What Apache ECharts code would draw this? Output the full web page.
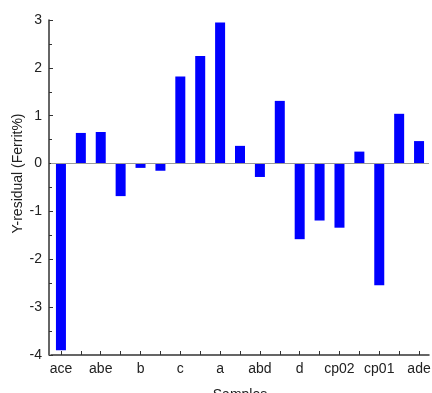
<!DOCTYPE html>
<html>
<head>
<meta charset="utf-8">
<script src="https://cdn.jsdelivr.net/npm/echarts@6/dist/echarts.min.js"></script>
<style>
html,body{margin:0;padding:0;background:#fff;}
#c{width:432px;height:393px;}
</style>
</head>
<body>
<div id="c"></div>
<script>
const categories = ["ace","","abe","","b","","c","","a","","abd","","d","","cp02","","cp01","","ade"];
const residuals = [-3.90, 0.64, 0.66, -0.68, -0.09, -0.15, 1.82, 2.25, 2.95, 0.37, -0.28, 1.31, -1.58, -1.19, -1.34, 0.25, -2.54, 1.04, 0.47];
const yTicks = [-4, -3, -2, -1, 0, 1, 2, 3];

const chart = echarts.init(document.getElementById('c'), null, {renderer: 'canvas'});
const font = 'Liberation Sans, Arial, sans-serif';
chart.setOption({
  animation: false,
  backgroundColor: '#ffffff',
  grid: {left: 51, right: 3, top: 20, bottom: 38, containLabel: false, outerBoundsMode: 'none'},
  xAxis: {
    type: 'category',
    data: categories,
    boundaryGap: true,
    position: 'bottom',
    axisLine: {onZero: false, lineStyle: {color: '#333', width: 1.5}},
    axisTick: {show: true, inside: true, alignWithLabel: true, interval: 0, length: 4, lineStyle: {color: '#333'}},
    axisLabel: {interval: 0, color: '#222', fontFamily: font, fontSize: 14, margin: 7},
    name: 'Samples',
    nameLocation: 'middle',
    nameGap: 33,
    nameMoveOverlap: false,
    nameTextStyle: {color: '#222', fontFamily: font, fontSize: 14}
  },
  yAxis: {
    type: 'value',
    min: yTicks[0],
    max: yTicks[yTicks.length - 1],
    interval: 1,
    offset: 2,
    axisLine: {show: true, lineStyle: {color: '#333', width: 1.5}},
    axisTick: {show: true, inside: true, length: 4, lineStyle: {color: '#333'}},
    minorTick: {show: true, splitNumber: 2, length: 3, lineStyle: {color: '#333'}},
    splitLine: {show: false},
    axisLabel: {color: '#222', fontFamily: font, fontSize: 14, margin: 7},
    name: 'Y-residual (Ferrit%)',
    nameLocation: 'middle',
    nameGap: 24,
    nameMoveOverlap: false,
    nameTextStyle: {color: '#222', fontFamily: font, fontSize: 14, padding: [0, 0, 0, 28]}
  },
  series: [{
    type: 'bar',
    data: residuals,
    barWidth: 10,
    itemStyle: {color: '#0000ff'},
    markLine: {
      silent: true,
      symbol: 'none',
      label: {show: false},
      lineStyle: {color: '#999', width: 1, type: 'solid'},
      data: [{yAxis: 0}]
    },
    z: 3
  }]
});
</script>
</body>
</html>
